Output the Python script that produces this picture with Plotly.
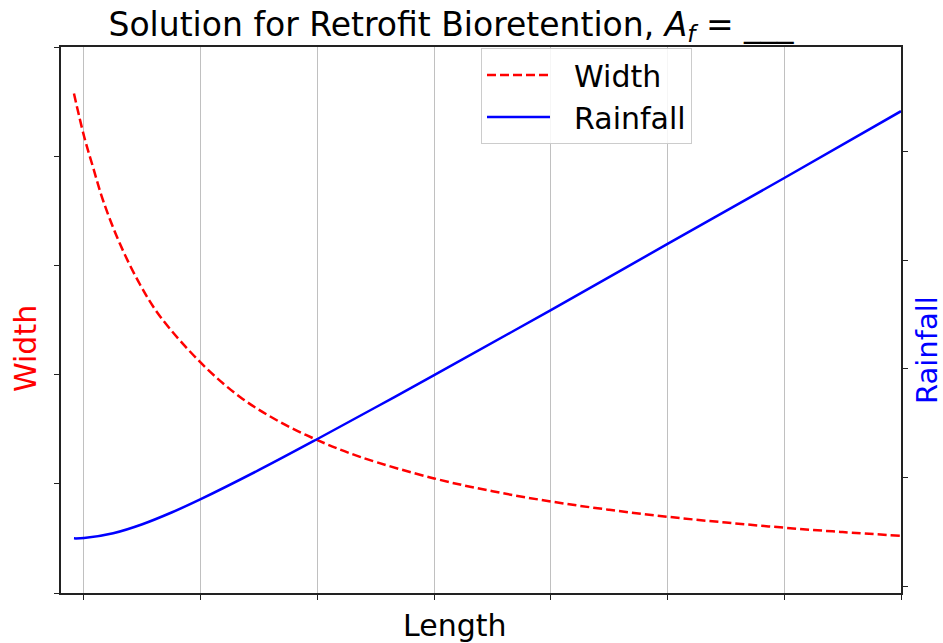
import plotly.graph_objects as go

# Length positions (in grid-tick units)
length_width = [0.914, 1.0, 1.08, 1.165, 1.309, 1.48, 1.651, 2.009, 2.337, 2.652,
                3.0, 3.365, 4.0, 4.5, 5.0, 5.5, 6.0, 6.5, 7.0, 7.5, 8.0]
width_vals = [4.575, 4.185, 3.89, 3.59, 3.195, 2.825, 2.535, 2.10, 1.795, 1.582,
              1.400, 1.247, 1.049, 0.932, 0.838, 0.762, 0.698, 0.645, 0.598, 0.558, 0.524]

length_rain = [0.914, 1.0, 1.25, 1.5, 1.75, 2.0, 2.5, 3.0, 3.5, 4.0, 5.0, 6.0, 7.0, 8.0]
rain_vals = [0.439, 0.442, 0.486, 0.569, 0.677, 0.800, 1.069, 1.354, 1.646, 1.942,
             2.541, 3.150, 3.757, 4.372]

x_ticks = [1, 2, 3, 4, 5, 6, 7, 8]
y1_ticks = [0, 1, 2, 3, 4, 5]
y2_ticks = [0, 1, 2, 3, 4]

FONT = "DejaVu Sans"
NB = "\u00a0\u00a0"

fig = go.Figure()
fig.add_trace(go.Scatter(x=length_width, y=width_vals, name=NB + "Width", mode="lines",
                         line=dict(color="red", dash="9px,4px", width=2.5, shape="spline"),
                         yaxis="y"))
fig.add_trace(go.Scatter(x=length_rain, y=rain_vals, name=NB + "Rainfall", mode="lines",
                         line=dict(color="blue", width=2.5, shape="spline"),
                         yaxis="y2"))

axis_common = dict(showline=True, linecolor="#222222", linewidth=1.5,
                   ticks="outside", ticklen=5, tickcolor="#222222", tickwidth=1.2,
                   showticklabels=False, zeroline=False, automargin=False)

fig.update_layout(
    width=943, height=643,
    margin=dict(l=61, r=42, t=47, b=50),
    paper_bgcolor="white", plot_bgcolor="white",
    font=dict(family=FONT, color="black"),
    title=dict(text="Solution for Retrofit Bioretention, <i>A<sub>f</sub></i> = ___",
               x=451/943, xanchor="center", y=1 - 24/643, yanchor="middle",
               font=dict(size=33, family=FONT, color="black")),
    xaxis=dict(range=[0.803, 8.0], tickvals=x_ticks, mirror=True,
               showgrid=True, gridcolor="#c0c0c0", gridwidth=1,
               **axis_common),
    yaxis=dict(range=[0, 5], tickvals=y1_ticks, showgrid=False, **axis_common),
    yaxis2=dict(range=[-0.064, 4.963], tickvals=y2_ticks, overlaying="y", side="right",
                showgrid=False, **axis_common),
    legend=dict(x=0.5, y=0.998, xanchor="left", yanchor="top",
                bgcolor="rgba(255,255,255,0.85)", bordercolor="#cccccc", borderwidth=1,
                font=dict(size=30, family=FONT, color="black"),
                itemwidth=63),
    showlegend=True,
    annotations=[
        dict(text="Length", xref="paper", yref="paper", x=(454 - 61) / 840, y=(593 - 625) / 546,
             xanchor="center", yanchor="middle", showarrow=False,
             font=dict(size=30, family=FONT, color="black")),
        dict(text="Width", xref="paper", yref="paper", x=(25 - 61) / 840, y=(593 - 349) / 546,
             xanchor="center", yanchor="middle", showarrow=False, textangle=-90,
             font=dict(size=30, family=FONT, color="red")),
        dict(text="Rainfall", xref="paper", yref="paper", x=(927 - 61) / 840, y=(593 - 350) / 546,
             xanchor="center", yanchor="middle", showarrow=False, textangle=-90,
             font=dict(size=29, family=FONT, color="blue")),
    ],
)

fig.write_html("out.html")
